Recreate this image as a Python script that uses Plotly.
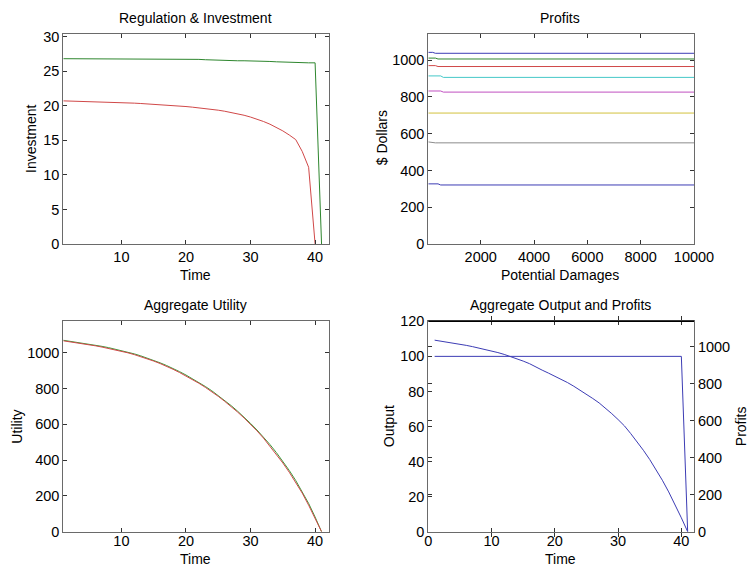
import plotly.graph_objects as go

W, H = 750, 567

# ---- Regulation & Investment ----
time_reg = list(range(1, 41))
invest_reg = [20.7, 20.68, 20.66, 20.63, 20.6, 20.57, 20.54, 20.51, 20.48, 20.45,
              20.41, 20.37, 20.32, 20.27, 20.22, 20.16, 20.1, 20.03, 19.96, 19.88,
              19.79, 19.7, 19.6, 19.48, 19.35, 19.2, 19.03, 18.84, 18.62, 18.36,
              18.06, 17.72, 17.33, 16.88, 16.36, 15.76, 15.1, 13.4, 11.1, 0.0]
time_green = list(range(1, 42))
invest_green = [26.8, 26.8, 26.8, 26.8, 26.8, 26.8, 26.8, 26.8, 26.8, 26.8,
                26.8, 26.8, 26.8, 26.8, 26.7, 26.7, 26.7, 26.7, 26.7, 26.7,
                26.7, 26.7, 26.65, 26.6, 26.6, 26.6, 26.55, 26.5, 26.5, 26.5,
                26.45, 26.4, 26.4, 26.35, 26.3, 26.25, 26.2, 26.2, 26.2, 26.2, 0.0]

# ---- Profits vs potential damages ----
damages = [35, 200, 300, 400, 500, 600, 10000]
profit_lines = [
    [1042, 1042, 1037, 1037, 1037, 1037, 1037],
    [1011, 1011, 1011, 1006, 1006, 1006, 1006],
    [970, 970, 970, 965, 965, 965, 965],
    [914, 914, 914, 914, 914, 906, 906],
    [832, 832, 832, 832, 832, 826, 826],
    [712, 712, 712, 712, 712, 712, 712],
    [555, 550, 550, 550, 550, 550, 550],
    [327, 327, 327, 327, 321, 321, 321],
]
profit_colors = ["#3c3cb4", "#2e862e", "#d04848", "#45c8c8",
                 "#c050c0", "#d2c23c", "#8c8c8c", "#3c3cb4"]

# ---- Aggregate Utility ----
time_util = list(range(1, 42))
utility_green = [1069, 1064, 1059, 1053, 1047, 1041, 1035, 1028, 1020, 1012,
                 1003, 993, 982, 970, 957, 943, 928, 912, 894, 875,
                 855, 834, 811, 787, 761, 733, 704, 673, 640, 605,
                 568, 529, 487, 442, 394, 342, 286, 226, 158, 82, 0]
utility_red = [1066, 1061, 1056, 1050, 1044, 1038, 1031, 1024, 1016, 1008,
               999, 989, 978, 966, 953, 939, 924, 907, 889, 870,
               850, 829, 806, 782, 756, 728, 699, 668, 635, 600,
               563, 523, 478, 432, 384, 332, 276, 216, 148, 75, 0]

# ---- Aggregate Output and Profits ----
time_out = list(range(1, 42))
output = [100] * 40 + [0]
agg_profit = [1035, 1030, 1024, 1019, 1013, 1007, 1000, 993, 985, 977,
              968, 958, 947, 935, 922, 908, 889, 873, 857, 841,
              824, 806, 786, 765, 743, 720, 696, 668, 638, 606,
              572, 530, 487, 440, 390, 336, 278, 215, 148, 75, 0]

FONT = "Liberation Sans, Arial, Helvetica, sans-serif"
TICK_SIZE = 14.5
LABEL_SIZE = 14


def px_x(x):
    return x / W


def px_y(y):
    return 1 - y / H


def axis_style(**kw):
    base = dict(showline=True, linecolor="#6a6a6a", linewidth=1, mirror="allticks",
                ticks="inside", ticklen=4, tickcolor="#333333", showgrid=False,
                zeroline=False, tickformat="d", automargin=False,
                tickfont=dict(family=FONT, size=TICK_SIZE, color="black"))
    base.update(kw)
    return base


fig = go.Figure()

# top-left
fig.add_trace(go.Scatter(x=time_green, y=invest_green, mode="lines",
                         line=dict(color="#2e862e", width=1), xaxis="x", yaxis="y"))
fig.add_trace(go.Scatter(x=time_reg, y=invest_reg, mode="lines",
                         line=dict(color="#d04848", width=1), xaxis="x", yaxis="y"))

# top-right
for vals, col in zip(profit_lines, profit_colors):
    fig.add_trace(go.Scatter(x=damages, y=vals, mode="lines",
                             line=dict(color=col, width=1), xaxis="x2", yaxis="y2"))

# bottom-left
fig.add_trace(go.Scatter(x=time_util, y=utility_green, mode="lines",
                         line=dict(color="#3a9a3a", width=1), xaxis="x3", yaxis="y3"))
fig.add_trace(go.Scatter(x=time_util, y=utility_red, mode="lines",
                         line=dict(color="#d04848", width=1), xaxis="x3", yaxis="y3"))

# bottom-right
fig.add_trace(go.Scatter(x=time_out, y=output, mode="lines",
                         line=dict(color="#3c3cb4", width=1), xaxis="x4", yaxis="y4"))
fig.add_trace(go.Scatter(x=time_out, y=agg_profit, mode="lines",
                         line=dict(color="#3c3cb4", width=1), xaxis="x4", yaxis="y5"))

left_dom = [63.3 / W, 329.3 / W]
right_dom = [428.3 / W, 694.0 / W]
top_dom = [px_y(244.0), px_y(33.8)]
bot_dom = [px_y(531.7), px_y(321.3)]

fig.update_layout(
    width=W, height=H, autosize=False,
    margin=dict(l=0, r=0, t=0, b=0, autoexpand=False),
    paper_bgcolor="white", plot_bgcolor="white",
    showlegend=False,
    font=dict(family=FONT, size=LABEL_SIZE, color="black"),
    xaxis=axis_style(domain=left_dom, anchor="y", range=[1, 42.2],
                     tickvals=[10, 20, 30, 40]),
    yaxis=axis_style(domain=top_dom, anchor="x", range=[0, 30.4],
                     tickvals=[0, 5, 10, 15, 20, 25, 30]),
    xaxis2=axis_style(domain=right_dom, anchor="y2", range=[35, 10000],
                      tickvals=[2000, 4000, 6000, 8000, 10000]),
    yaxis2=axis_style(domain=top_dom, anchor="x2", range=[0, 1143],
                      tickvals=[0, 200, 400, 600, 800, 1000]),
    xaxis3=axis_style(domain=left_dom, anchor="y3", range=[1, 42.2],
                      tickvals=[10, 20, 30, 40], ticklabelstandoff=-4),
    yaxis3=axis_style(domain=bot_dom, anchor="x3", range=[0, 1175],
                      tickvals=[0, 200, 400, 600, 800, 1000]),
    xaxis4=axis_style(domain=right_dom, anchor="y4", range=[0, 42],
                      tickvals=[0, 10, 20, 30, 40], ticklabelstandoff=-4),
    yaxis4=axis_style(domain=bot_dom, anchor="x4", range=[0, 120], mirror=True,
                      tickvals=[0, 20, 40, 60, 80, 100, 120]),
    yaxis5=axis_style(domain=bot_dom, anchor="x4", overlaying="y4", side="right",
                      range=[0, 1137], mirror="ticks",
                      tickvals=[0, 200, 400, 600, 800, 1000]),
)

# darker top edge where the two overlaid axes of the output panel meet
fig.add_shape(type="line", xref="paper", yref="paper",
              x0=right_dom[0], x1=right_dom[1], y0=bot_dom[1], y1=bot_dom[1],
              line=dict(color="black", width=1.5))

labels = [
    ("Regulation & Investment", 195, 18.3, 0),
    ("Profits", 560, 18.3, 0),
    ("Aggregate Utility", 195, 305, 0),
    ("Aggregate Output and Profits", 560, 305, 0),
    ("Time", 195, 275.3, 0),
    ("Potential Damages", 560, 275.3, 0),
    ("Time", 195, 558.5, 0),
    ("Time", 560, 558.5, 0),
    ("Investment", 31.7, 138.3, -90),
    ("$ Dollars", 382, 138.3, -90),
    ("Utility", 17, 426.7, -90),
    ("Output", 388.5, 426.7, -90),
    ("Profits", 740.5, 426.7, -90),
]
for text, x, y, ang in labels:
    fig.add_annotation(text=text, x=px_x(x), y=px_y(y), xref="paper", yref="paper",
                       xanchor="center", yanchor="middle", showarrow=False,
                       textangle=ang,
                       font=dict(family=FONT, size=LABEL_SIZE, color="black"))

fig.write_html("out.html")
